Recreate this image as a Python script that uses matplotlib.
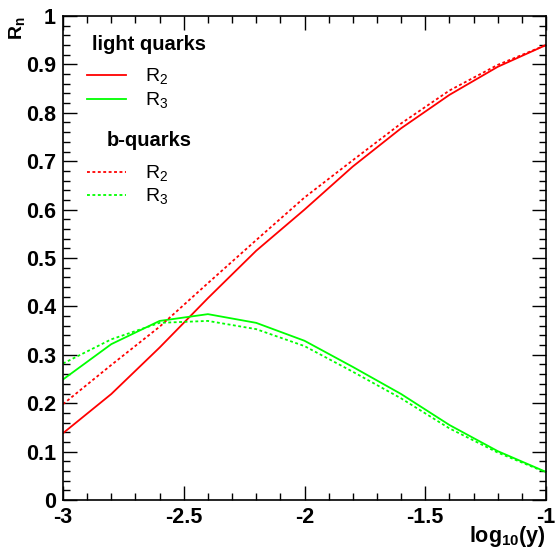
import matplotlib
matplotlib.use("Agg")
import matplotlib.pyplot as plt
from matplotlib.lines import Line2D
from matplotlib.ticker import MultipleLocator

plt.rcParams['font.family'] = ['Liberation Sans', 'DejaVu Sans']
plt.rcParams['mathtext.default'] = 'regular'

log10y = [-3.0, -2.8, -2.6, -2.4, -2.2, -2.0, -1.8, -1.6, -1.4, -1.2, -1.0]
light_R2 = [0.138, 0.219, 0.315, 0.417, 0.515, 0.600, 0.689, 0.768, 0.837, 0.895, 0.940]
light_R3 = [0.249, 0.322, 0.370, 0.384, 0.366, 0.329, 0.275, 0.219, 0.155, 0.101, 0.058]
b_R2 = [0.198, 0.279, 0.358, 0.448, 0.537, 0.625, 0.702, 0.778, 0.846, 0.899, 0.940]
b_R3 = [0.282, 0.332, 0.366, 0.370, 0.353, 0.318, 0.265, 0.210, 0.148, 0.098, 0.057]

W, H = 556, 553
fig = plt.figure(figsize=(W / 100, H / 100), dpi=100)
L, R, T, B = 63, 546, 16, 500
ax = fig.add_axes([L / W, 1 - B / H, (R - L) / W, (B - T) / H])

red = '#ff0000'
green = '#00ff00'
lw = 1.3
dash = (0, (1.6, 1.4))
ax.plot(log10y, light_R2, color=red, lw=lw)
ax.plot(log10y, light_R3, color=green, lw=lw)
ax.plot(log10y, b_R2, color=red, lw=lw, linestyle=dash)
ax.plot(log10y, b_R3, color=green, lw=lw, linestyle=dash)

ax.set_xlim(-3, -1)
ax.set_ylim(0, 1)
ax.xaxis.set_minor_locator(MultipleLocator(0.1))
ax.yaxis.set_minor_locator(MultipleLocator(0.02))
ax.tick_params(which='both', direction='in', top=True, right=True, width=1.0)
ax.tick_params(which='major', length=10, pad=4)
ax.tick_params(which='minor', length=5)
ax.set_xticks([-3, -2.5, -2, -1.5, -1])
ax.set_xticklabels(['-3', '-2.5', '-2', '-1.5', '-1'], fontweight='bold', fontsize=15.5)
ax.set_yticks([0, 0.1, 0.2, 0.3, 0.4, 0.5, 0.6, 0.7, 0.8, 0.9, 1.0])
ax.set_yticklabels(['0', '0.1', '0.2', '0.3', '0.4', '0.5', '0.6', '0.7', '0.8', '0.9', '1'],
                   fontweight='bold', fontsize=15.5)
ax.tick_params(axis='y', pad=5)
ax.tick_params(axis='x', pad=5)
for s in ax.spines.values():
    s.set_linewidth(1.2)

def fx(px):
    return px / W

def fy(py):
    return 1 - py / H

fig.text(fx(546), fy(524), r'$log_{10}(y)$', ha='right', va='top', fontsize=15.5,
         fontweight='bold')
fig.text(fx(17), fy(16), r'$R_n$', ha='center', va='top', fontsize=14,
         rotation=90, fontweight='bold')

# legend
fig.text(fx(92), fy(44), 'light quarks', fontsize=14.5, fontweight='bold', ha='left', va='center')
fig.text(fx(107), fy(140), 'b-quarks', fontsize=14.5, fontweight='bold', ha='left', va='center')
entries = [(75, red, '-', r'$R_2$'), (99, green, '-', r'$R_3$'),
           (172, red, dash, r'$R_2$'), (195, green, dash, r'$R_3$')]
for py, c, ls, lab in entries:
    fig.add_artist(Line2D([fx(87), fx(126)], [fy(py), fy(py)], color=c, lw=lw, linestyle=ls))
    fig.text(fx(145), fy(py + 1), lab, fontsize=14, ha='left', va='center')

fig.savefig('out.png', dpi=100)
